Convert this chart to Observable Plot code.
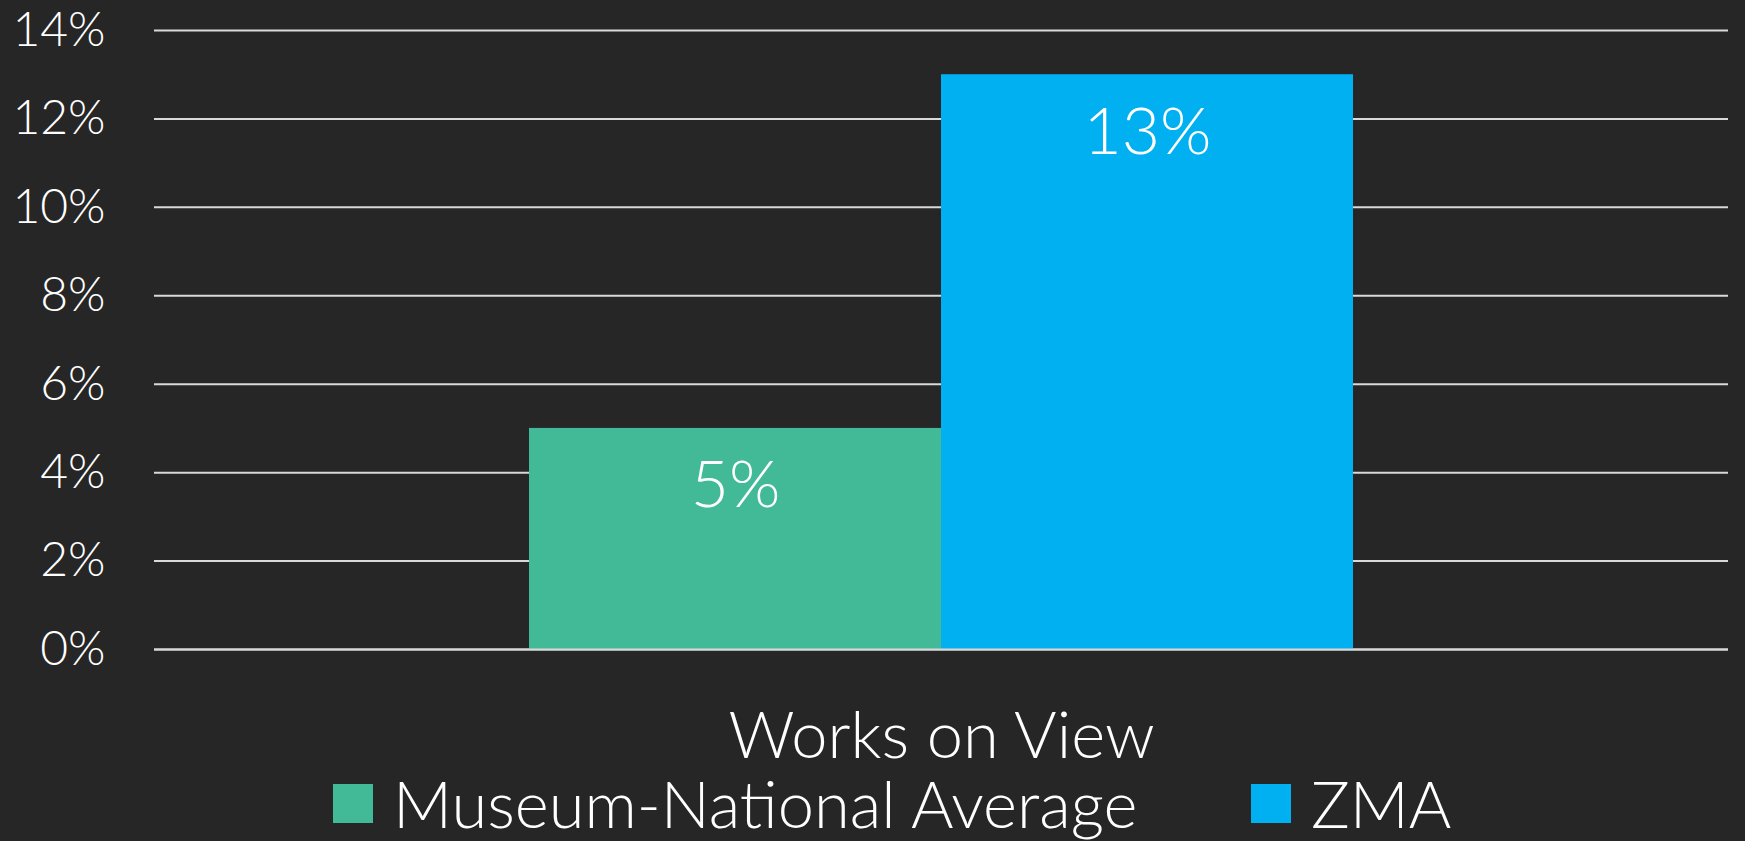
<!DOCTYPE html>
<html>
<head>
<meta charset="utf-8">
<script src="https://cdn.jsdelivr.net/npm/d3@7"></script>
<script src="https://cdn.jsdelivr.net/npm/@observablehq/plot@0.6"></script>
<style>
  html, body { margin: 0; padding: 0; background: #262626; width: 1745px; height: 841px; overflow: hidden; }
  #wrap { position: relative; width: 1745px; height: 841px; font-family: Lato, "Noto Sans", sans-serif; font-weight: 300; }
  #chart svg { display: block; }
  #legend { position: absolute; left: 333px; top: 783px; display: flex; align-items: center; color: #fff; font-size: 65px; line-height: 40px; font-weight: 300; }
  .item { display: flex; align-items: center; }
  .sw { width: 40px; height: 39px; margin-right: 20px; flex: none; }
</style>
</head>
<body>
<div id="wrap">
  <div id="chart"></div>
  <div id="legend"></div>
</div>
<script>
const categories = ["Works on View"];
const series = ["Museum-National Average", "ZMA"];
const values = [5, 13];
const yTicks = [0, 2, 4, 6, 8, 10, 12, 14];
const colors = ["#43BA97", "#00B0F0"];

const data = series.map((s, i) => ({category: categories[0], series: s, value: values[i]}));

const chart = Plot.plot({
  width: 1745,
  height: 775,
  marginLeft: 154,
  marginRight: 17,
  marginTop: 30,
  marginBottom: 126,
  style: {background: "transparent", color: "#ffffff", fontFamily: "Lato, 'Noto Sans', sans-serif", fontWeight: 300},
  fx: {domain: categories, padding: 0, label: null},
  x: {domain: series, axis: null, paddingInner: 0, paddingOuter: 0.91},
  y: {domain: [0, 14]},
  color: {domain: series, range: colors},
  marks: [
    Plot.gridY(yTicks, {stroke: "#d9d9d9", strokeOpacity: 1, strokeWidth: 2}),
    Plot.axisY(yTicks, {tickSize: 0, tickPadding: 49, tickFormat: d => d + "%", fontSize: 48, label: null, fill: "#ffffff"}),
    Plot.barY(data, {fx: "category", x: "series", y: "value", fill: "series"}),
    Plot.ruleY([0], {stroke: "#d9d9d9", strokeWidth: 2}),
    Plot.text(data, {fx: "category", x: "series", y: "value", text: d => d.value + "%", fill: "#ffffff", fontSize: 66, lineAnchor: "bottom", dy: 79}),
    Plot.axisFx({anchor: "bottom", tickSize: 0, tickPadding: 62, fontSize: 65, label: null, fill: "#ffffff"})
  ]
});
document.getElementById("chart").appendChild(chart);

const legend = document.getElementById("legend");
series.forEach((s, i) => {
  const item = document.createElement("div");
  item.className = "item";
  if (i === 0) item.style.width = "918px";
  const sw = document.createElement("div");
  sw.className = "sw";
  sw.style.background = colors[i];
  const t = document.createElement("span");
  t.textContent = s;
  item.appendChild(sw);
  item.appendChild(t);
  legend.appendChild(item);
});
</script>
</body>
</html>
